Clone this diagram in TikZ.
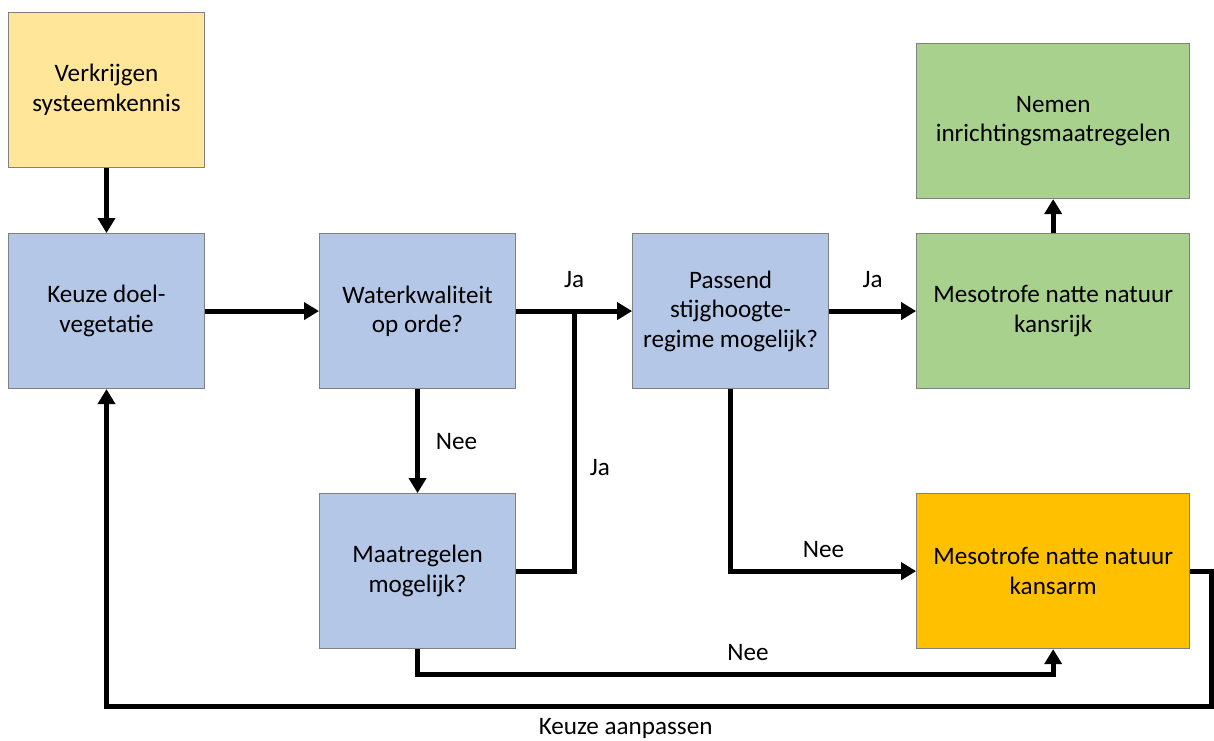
\documentclass[tikz,border=0pt]{standalone}
\usepackage{fontspec}
\setmainfont{Carlito}
\usetikzlibrary{arrows.meta,positioning,calc}
\definecolor{boxyellow}{HTML}{FFE699}
\definecolor{boxblue}{HTML}{B4C7E7}
\definecolor{boxgreen}{HTML}{A9D18E}
\definecolor{boxorange}{HTML}{FFC000}

\begin{document}
\begin{tikzpicture}[
  box/.style={draw=black!50, line width=0.6pt, minimum width=3.92cm, minimum height=3.1cm, align=center, font=\fontsize{14.3}{16.8}\selectfont},
  wide/.style={box, minimum width=5.46cm},
  keuzebox/.style={box, fill=boxblue},
  infobox/.style={box, fill=boxyellow},
  goed/.style={wide, fill=boxgreen},
  slecht/.style={wide, fill=boxorange},
  arrow/.style={-{Triangle[length=3mm, width=3.4mm]}, line width=0.1cm},
  line/.style={line width=0.1cm},
  lbl/.style={font=\fontsize{14.3}{16.8}\selectfont}
]
\useasboundingbox (0,0) rectangle (24.28,-14.8);

\node[infobox] (verkrijgen) at (2.13,-1.8) {Verkrijgen\\systeemkennis};
\node[keuzebox, below=1.3cm of verkrijgen] (keuze) {Keuze doel-\\vegetatie};
\node[keuzebox, right=2.28cm of keuze] (water) {Waterkwaliteit\\op orde?};
\node[keuzebox, below=2.08cm of water] (maatregel) {Maatregelen\\mogelijk?};
\node[keuzebox, right=2.32cm of water] (passend) {Passend\\stijghoogte-\\regime mogelijk?};
\node[goed, right=1.74cm of passend] (kansrijk) {Mesotrofe natte natuur\\kansrijk};
\node[goed, above=0.68cm of kansrijk] (nemen) {Nemen\\inrichtingsmaatregelen};
\node[slecht, below=2.08cm of kansrijk] (kansarm) {Mesotrofe natte natuur\\kansarm};

\coordinate (join) at ($(water.east)!0.5!(passend.west)$);
\coordinate (terug) at (24.22,-14.12);

\draw[arrow] (verkrijgen) -- (keuze);
\draw[arrow] (keuze) -- (water);
\draw[arrow] (water) -- (passend) node[midway, above=0.3cm, lbl] {Ja};
\draw[arrow] (water) -- (maatregel) node[midway, right=0.2cm, lbl] {Nee};
\draw[line] (maatregel.east) -| (join) node[pos=0.7, right=0.15cm, lbl] {Ja};
\draw[arrow] (passend) -- (kansrijk) node[midway, above=0.3cm, lbl] {Ja};
\draw[arrow] (kansrijk) -- (nemen);
\draw[arrow] (passend.south) |- (kansarm.west) node[pos=0.75, above=0.1cm, lbl] {Nee};
\draw[arrow] (maatregel.south) -- ++(0,-0.5) -| (kansarm.south) node[pos=0.26, above=0.1cm, lbl] {Nee};
\draw[arrow] (kansarm.east) -| (terug) -| (keuze.south) node[pos=0.265, below=0.08cm, lbl] {Keuze aanpassen};
\end{tikzpicture}
\end{document}
